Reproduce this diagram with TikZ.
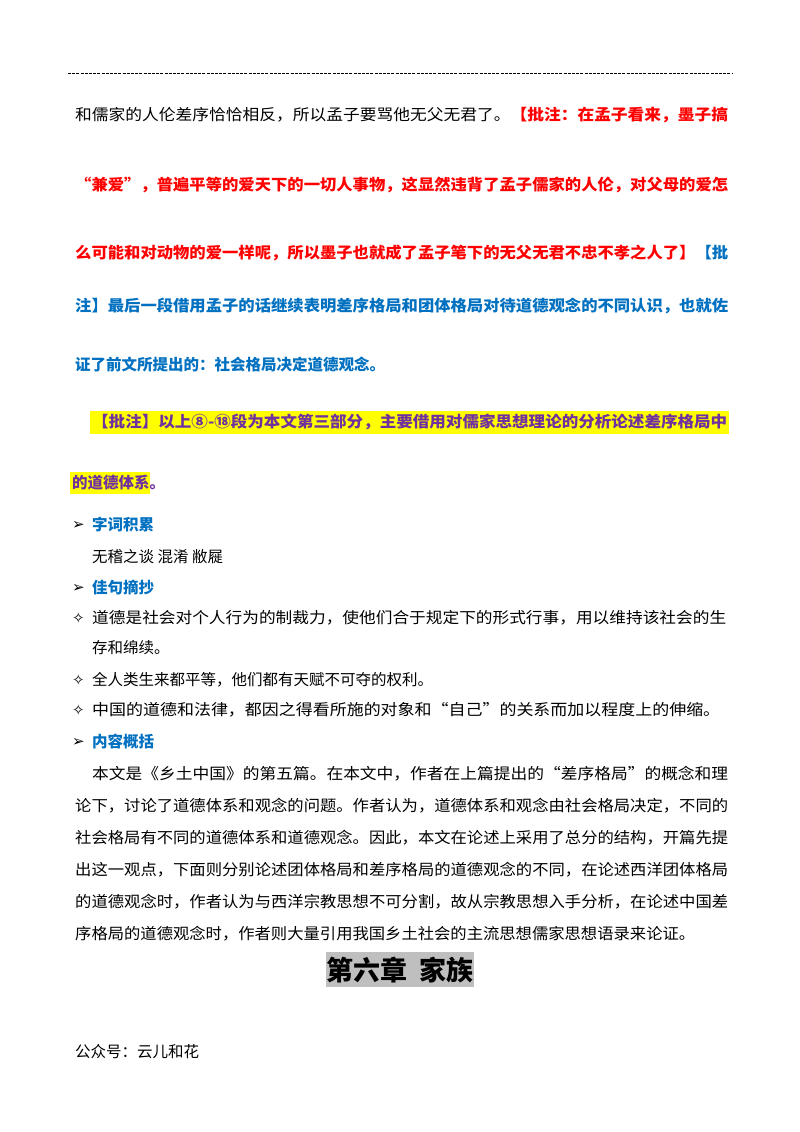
\documentclass[tikz,border=0pt]{standalone}
\usepackage{fontspec}
\usepackage{graphicx}
\setmainfont{Noto Sans CJK SC}
\newfontfamily\sym{DejaVu Sans}
\definecolor{redt}{HTML}{FF0000}
\definecolor{bluet}{HTML}{0070C0}
\definecolor{purp}{HTML}{7030A0}
\definecolor{yel}{HTML}{FFFF00}
\newcommand\fw[2]{\resizebox{#1}{\height}{#2}}
\tikzset{
 ln/.style={anchor=west,inner sep=0pt,font=\fontsize{15.5}{16}\selectfont},
 bd/.style={ln,font=\fontsize{15.5}{16}\selectfont\bfseries},
 bul/.style={anchor=west,inner sep=0pt,font=\sym\fontsize{15}{15}\selectfont}
}
\begin{document}
\begin{tikzpicture}[x=1pt,y=-1pt]
\useasboundingbox (0,0) rectangle (800,1132);
\fill[white] (0,0) rectangle (800,1132);
\draw[dashed,dash pattern=on 3pt off 1.2pt,line width=0.8pt] (68,73) coordinate(d1) -- (733,73) coordinate(d2);
\node[ln] (l1) at (75,115) {\fw{653pt}{和儒家的人伦差序恰恰相反，所以孟子要骂他无父无君了。\textcolor{redt}{\bfseries 【批注：在孟子看来，墨子搞}}};
\node[bd,text=redt] (l2) at (75,185) {\fw{653pt}{“兼爱”，普遍平等的爱天下的一切人事物，这显然违背了孟子儒家的人伦，对父母的爱怎}};
\node[bd,text=redt] (l3) at (75,253) {\fw{653pt}{么可能和对动物的爱一样呢，所以墨子也就成了孟子笔下的无父无君不忠不孝之人了】\textcolor{bluet}{【批}}};
\node[bd,text=bluet] (l4) at (75,306) {\fw{653pt}{注】最后一段借用孟子的话继续表明差序格局和团体格局对待道德观念的不同认识，也就佐}};
\node[bd,text=bluet] (l5) at (75,365) {证了前文所提出的：社会格局决定道德观念。};
\fill[yel] (90,411) rectangle (729,434);
\node[bd,text=purp] (l6) at (92,422) {\fw{635pt}{【批注】以上⑧-⑱段为本文第三部分，主要借用对儒家思想理论的分析论述差序格局中}};
\fill[yel] (70,472) rectangle (150,494);
\node[bd,text=purp] (l7) at (72,483) {的道德体系。};
\node[bul] (b1) at (72,525) {➢};
\node[bd,text=bluet] (h1) at (92,525) {字词积累};
\node[ln] (t1) at (92,557) {无稽之谈\ 混淆\ 敝屣};
\node[bul] (b2) at (72,588) {➢};
\node[bd,text=bluet] (h2) at (92,588) {佳句摘抄};
\node[bul] (s1) at (72,618) {✧};
\node[ln] (q1) at (92,618) {\fw{634pt}{道德是社会对个人行为的制裁力，使他们合于规定下的形式行事，用以维持该社会的生}};
\node[ln] (q1b) at (92,648) {存和绵续。};
\node[bul] (s2) at (72,680) {✧};
\node[ln] (q2) at (92,680) {全人类生来都平等，他们都有天赋不可夺的权利。};
\node[bul] (s3) at (72,710) {✧};
\node[ln] (q3) at (92,710) {\fw{628pt}{中国的道德和法律，都因之得看所施的对象和“自己”的关系而加以程度上的伸缩。}};
\node[bul] (b3) at (72,742) {➢};
\node[bd,text=bluet] (h3) at (92,742) {内容概括};
\node[ln] (p1) at (92,774) {\fw{636pt}{本文是《乡土中国》的第五篇。在本文中，作者在上篇提出的“差序格局”的概念和理}};
\node[ln] (p2) at (75,806) {\fw{653pt}{论下，讨论了道德体系和观念的问题。作者认为，道德体系和观念由社会格局决定，不同的}};
\node[ln] (p3) at (75,838) {\fw{653pt}{社会格局有不同的道德体系和道德观念。因此，本文在论述上采用了总分的结构，开篇先提}};
\node[ln] (p4) at (75,870) {\fw{653pt}{出这一观点，下面则分别论述团体格局和差序格局的道德观念的不同，在论述西洋团体格局}};
\node[ln] (p5) at (75,902) {\fw{653pt}{的道德观念时，作者认为与西洋宗教思想不可分割，故从宗教思想入手分析，在论述中国差}};
\node[ln] (p6) at (75,934) {\fw{620pt}{序格局的道德观念时，作者则大量引用我国乡土社会的主流思想儒家思想语录来论证。}};
\fill[black!25] (326,952) rectangle (474,987);
\node[inner sep=0pt,font=\fontsize{27}{28}\selectfont\bfseries] (hd) at (400,970) {第六章\ \ 家族};
\node[ln] (ft) at (75,1052) {公众号：云儿和花};
\end{tikzpicture}
\end{document}
